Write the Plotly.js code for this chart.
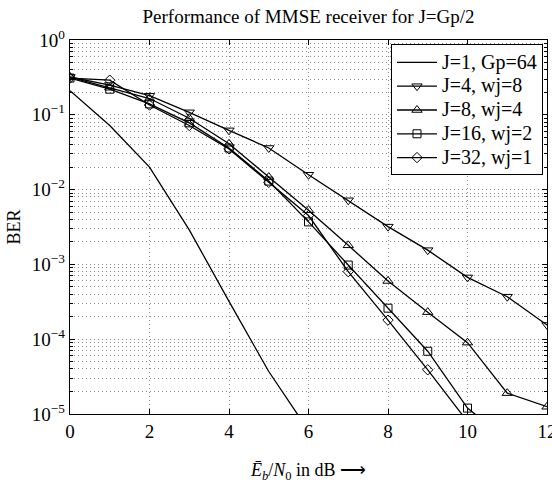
<!DOCTYPE html>
<html>
<head>
<meta charset="utf-8">
<script src="https://cdn.plot.ly/plotly-3.0.1.min.js"></script>
<style>html,body{margin:0;padding:0;background:#fff;}#chart{width:552px;height:483px;}</style>
</head>
<body>
<div id="chart"></div>
<script>
// ---- data ----
const snrAll = [0, 1, 2, 3, 4, 5, 6, 7, 8, 9, 10, 11, 12];
const snrJ1 = [0, 1, 2, 3, 4, 5, 6];
const berJ1 = [0.21, 0.072, 0.020, 0.0029, 3.2e-4, 3.7e-5, 6e-6];
const berJ4 = [0.32, 0.25, 0.18, 0.108, 0.062, 0.036, 0.0158, 0.0072, 0.0032, 0.00155, 6.7e-4, 3.7e-4, 1.55e-4];
const berJ8 = [0.32, 0.23, 0.165, 0.09, 0.041, 0.0147, 0.0053, 0.0018, 6.0e-4, 2.3e-4, 9.0e-5, 1.9e-5, 1.25e-5];
const snrJ16 = [0, 1, 2, 3, 4, 5, 6, 7, 8, 9, 10, 11];
const berJ16 = [0.31, 0.22, 0.14, 0.078, 0.036, 0.013, 0.0037, 9.8e-4, 2.6e-4, 6.9e-5, 1.2e-5, 4.5e-6];
const snrJ32 = [0, 1, 2, 3, 4, 5, 6, 7, 8, 9, 10];
const berJ32 = [0.31, 0.29, 0.135, 0.072, 0.035, 0.0125, 0.0045, 8.0e-4, 1.8e-4, 3.9e-5, 7.9e-6];
const seriesNames = ['J=1, Gp=64', 'J=4, wj=8', 'J=8, wj=4', 'J=16, wj=2', 'J=32, wj=1'];
const xTicks = [0, 2, 4, 6, 8, 10, 12];
const yTickVals = [1e-5, 1e-4, 1e-3, 1e-2, 1e-1, 1];
const yTickText = ['10<sup>−5</sup>', '10<sup>−4</sup>', '10<sup>−3</sup>', '10<sup>−2</sup>', '10<sup>−1</sup>', '10<sup>0</sup>'];
const yMinorVals = [];
for (let e = -5; e < 0; e++) { for (let m = 2; m <= 9; m++) { yMinorVals.push(m * Math.pow(10, e)); } }

const FONT = 'Liberation Serif';
const lineStyle = {color: '#000', width: 1.3};
function mk(sym, s) { return {symbol: sym, size: s, color: '#000', line: {color: '#000', width: 1}}; }
// legend rows are spaced by the legend font size; the visible text is drawn larger
function legendName(s) { return '<span style="font-size:20px">' + s + '</span>'; }

const traces = [
  {x: snrJ1, y: berJ1, name: legendName(seriesNames[0]), mode: 'lines', line: lineStyle},
  {x: snrAll, y: berJ4, name: legendName(seriesNames[1]), mode: 'lines+markers', line: lineStyle, marker: mk('triangle-down-open', 9)},
  {x: snrAll, y: berJ8, name: legendName(seriesNames[2]), mode: 'lines+markers', line: lineStyle, marker: mk('triangle-up-open', 9)},
  {x: snrJ16, y: berJ16, name: legendName(seriesNames[3]), mode: 'lines+markers', line: lineStyle, marker: mk('square-open', 8)},
  {x: snrJ32, y: berJ32, name: legendName(seriesNames[4]), mode: 'lines+markers', line: lineStyle, marker: mk('diamond-open', 8)}
];

const gridCol = '#8a8a8a';
const gridDash = '1px,3px';
const layout = {
  width: 552, height: 483,
  margin: {l: 70, r: 5, t: 40, b: 69},
  paper_bgcolor: '#fff', plot_bgcolor: '#fff',
  font: {family: FONT, size: 18, color: '#000'},
  title: {text: 'Performance of MMSE receiver for J=Gp/2', font: {family: FONT, size: 19, color: '#000'}, x: 0.5, xref: 'paper', xanchor: 'center', y: 0.966, yanchor: 'middle'},
  showlegend: true,
  legend: {x: 0.9916, y: 0.988, xanchor: 'right', yanchor: 'top', bgcolor: '#fff', bordercolor: '#000', borderwidth: 1, font: {family: FONT, size: 16, color: '#000'}, itemwidth: 40, tracegroupgap: 0},
  xaxis: {
    range: [0, 12], tickmode: 'array', tickvals: xTicks,
    ticks: 'inside', ticklen: 5, tickcolor: '#000', tickwidth: 1,
    showline: true, linecolor: '#000', linewidth: 1.2, mirror: 'ticks',
    showgrid: true, gridcolor: gridCol, griddash: gridDash, gridwidth: 1,
    zeroline: false, ticklabeloverflow: 'allow', tickfont: {family: FONT, size: 19, color: '#000'},
    title: {text: '<i>Ē</i><sub><i>b</i></sub>/<i>N</i><sub>0</sub> in dB ⟶', font: {family: FONT, size: 18, color: '#000'}, standoff: 22}
  },
  yaxis: {
    type: 'log', range: [-5, 0], tickmode: 'array', tickvals: yTickVals, ticktext: yTickText,
    ticks: 'inside', ticklen: 5, tickcolor: '#000', tickwidth: 1,
    showline: true, linecolor: '#000', linewidth: 1.2, mirror: 'ticks',
    showgrid: true, gridcolor: gridCol, griddash: gridDash, gridwidth: 1,
    minor: {tickmode: 'array', tickvals: yMinorVals, ticks: 'inside', ticklen: 3, tickcolor: '#000', showgrid: true, gridcolor: gridCol, griddash: gridDash, gridwidth: 1},
    zeroline: false, tickfont: {family: FONT, size: 19, color: '#000'},
    title: {text: 'BER', font: {family: FONT, size: 18, color: '#000'}, standoff: 6}
  }
};

Plotly.newPlot('chart', traces, layout, {displayModeBar: false, staticPlot: true});
</script>
</body>
</html>
